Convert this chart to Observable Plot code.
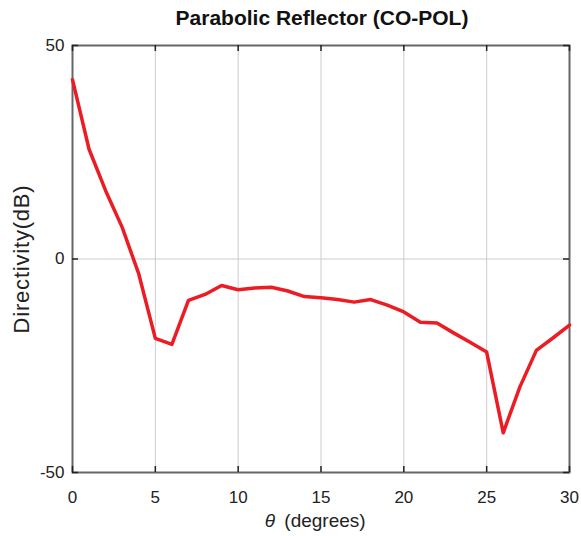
<!DOCTYPE html>
<html>
<head>
<meta charset="utf-8">
<script src="https://cdn.jsdelivr.net/npm/d3@7"></script>
<script src="https://cdn.jsdelivr.net/npm/@observablehq/plot@0.6"></script>
<style>
  body { margin: 0; background: #fff; font-family: "Liberation Sans", Arial, sans-serif; }
  #wrap { width: 581px; height: 536px; position: relative; }
  #title { height: 36px; width: 581px; box-sizing: border-box; padding-left: 63px; text-align: center; font-weight: bold; font-size: 21px; line-height: 36px; color: #111; }
  .ylab text { letter-spacing: 0.8px; }
</style>
</head>
<body>
<div id="wrap">
  <div id="title">Parabolic Reflector (CO-POL)</div>
  <div id="chart"></div>
</div>
<script>
const theta = [0,1,2,3,4,5,6,7,8,9,10,11,12,13,14,15,16,17,18,19,20,21,22,23,24,25,26,27,28,29,30];
const directivity = [42, 25.7, 16, 7.4, -3.5, -18.6, -20, -9.7, -8.3, -6.2, -7.2, -6.8, -6.6, -7.5, -8.8, -9.1, -9.5, -10.1, -9.5, -10.8, -12.4, -14.8, -15.0, -17.3, -19.5, -21.8, -40.7, -30, -21.4, -18.5, -15.5];
const xTicks = [0,5,10,15,20,25,30];
const yTicks = [-50,0,50];
const xLabelSymbol = "θ";
const xLabelText = "(degrees)";
const yLabel = "Directivity(dB)";

const data = theta.map((t, i) => ({theta: t, d: directivity[i]}));
const plain = d => String(d);

const W = 581, H = 500, mT = 9, mB = 64, mL = 72, mR = 12;
const frameW = W - mL - mR, frameH = H - mT - mB, tickLen = 6;

const chart = Plot.plot({
  width: W,
  height: H,
  marginTop: mT,
  marginBottom: mB,
  marginLeft: mL,
  marginRight: mR,
  style: {fontFamily: "Liberation Sans, Arial, sans-serif", fontSize: "17px", color: "#222", background: "#fff"},
  x: {domain: [0, 30]},
  y: {domain: [-50, 50]},
  marks: [
    Plot.gridX(xTicks, {stroke: "#ccc", strokeOpacity: 1, strokeWidth: 1}),
    Plot.gridY(yTicks, {stroke: "#ccc", strokeOpacity: 1, strokeWidth: 1}),
    // tick labels
    Plot.axisX(xTicks, {anchor: "bottom", tickSize: 0, tickPadding: 18, tickFormat: plain, label: null, fontSize: 17, fill: "#222"}),
    Plot.axisY(yTicks, {anchor: "left", tickSize: 0, tickPadding: 8, tickFormat: plain, label: null, fontSize: 17, fill: "#222"}),
    Plot.frame({stroke: "#666", strokeWidth: 2}),
    // inward tick marks
    Plot.ruleX(xTicks, {x: d => d, insetTop: frameH - tickLen, stroke: "#222", strokeWidth: 1.5}),
    Plot.ruleX(xTicks, {x: d => d, insetBottom: frameH - tickLen, stroke: "#222", strokeWidth: 1.5}),
    Plot.ruleY(yTicks, {y: d => d, insetRight: frameW - tickLen, stroke: "#222", strokeWidth: 1.5}),
    Plot.ruleY(yTicks, {y: d => d, insetLeft: frameW - tickLen, stroke: "#222", strokeWidth: 1.5}),
    Plot.line(data, {x: "theta", y: "d", stroke: "#ec1c24", strokeWidth: 3.5, strokeLinejoin: "round"}),
    Plot.text([xLabelSymbol], {frameAnchor: "bottom", dy: 54, dx: -51, fontSize: 19, fontStyle: "italic", fill: "#222"}),
    Plot.text([xLabelText], {frameAnchor: "bottom", dy: 54, dx: 4, fontSize: 19, fill: "#222"}),
    Plot.text([yLabel], {frameAnchor: "left", textAnchor: "middle", dx: -51, rotate: -90, fontSize: 22, fill: "#222", className: "ylab"})
  ]
});
document.getElementById("chart").appendChild(chart);
</script>
</body>
</html>
